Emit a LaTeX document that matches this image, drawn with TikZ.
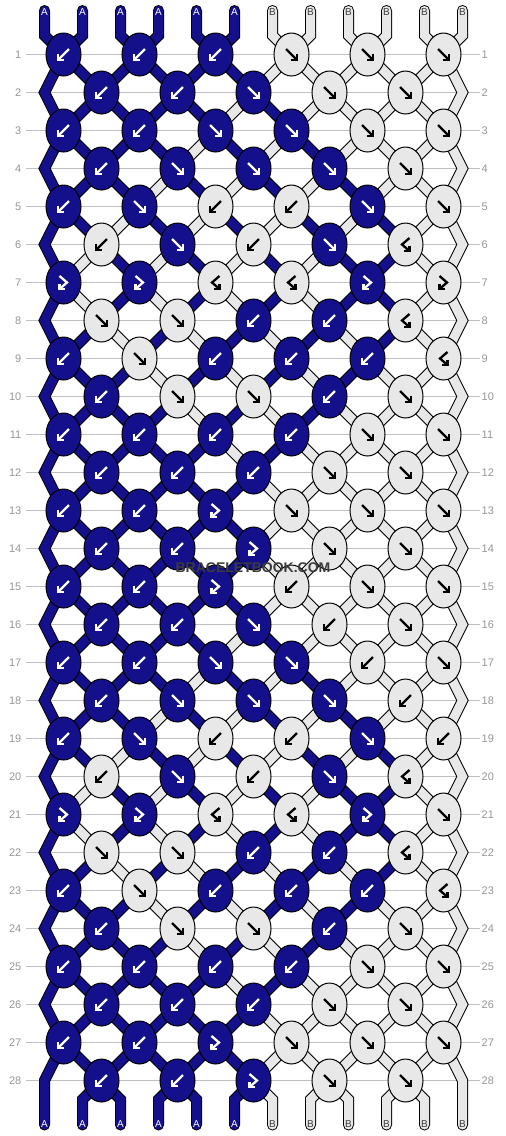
\documentclass[tikz,border=0pt]{standalone}
\usepackage{fontspec}
\setmainfont{Liberation Sans}
\usetikzlibrary{shapes.geometric}
\pgfdeclarelayer{bg}
\pgfsetlayers{bg,main}
\definecolor{navy}{RGB}{20,16,140}
\definecolor{pale}{RGB}{232,232,232}
\definecolor{rulegray}{RGB}{192,192,192}
\definecolor{numgray}{RGB}{150,150,150}
\definecolor{markgray}{RGB}{60,60,60}

% row / knots (type/colour) / strings after the row
\def\rows{%
1/{b/d,b/d,b/d,f/l,f/l,f/l}/{d,d,d,d,d,d,l,l,l,l,l,l},%
2/{b/d,b/d,f/d,f/l,f/l}/{d,d,d,d,d,l,d,l,l,l,l,l},%
3/{b/d,b/d,f/d,f/d,f/l,f/l}/{d,d,d,d,l,d,l,d,l,l,l,l},%
4/{b/d,f/d,f/d,f/d,f/l}/{d,d,d,l,d,l,d,l,d,l,l,l},%
5/{b/d,f/d,b/l,b/l,f/d,f/l}/{d,d,l,d,l,d,l,d,l,d,l,l},%
6/{b/l,f/d,b/l,f/d,h/l}/{d,l,d,l,d,l,d,l,d,d,l,l},%
7/{g/d,g/d,h/l,h/l,g/d,g/l}/{d,l,d,l,d,l,d,l,d,d,l,l},%
8/{f/l,f/l,b/d,b/d,h/l}/{d,d,l,d,l,d,l,d,l,d,l,l},%
9/{b/d,f/l,b/d,b/d,b/d,h/l}/{d,d,d,l,d,l,d,l,d,l,l,l},%
10/{b/d,f/l,f/l,b/d,f/l}/{d,d,d,d,l,d,l,d,l,l,l,l},%
11/{b/d,b/d,b/d,b/d,f/l,f/l}/{d,d,d,d,d,l,d,l,l,l,l,l},%
12/{b/d,b/d,b/d,f/l,f/l}/{d,d,d,d,d,d,l,l,l,l,l,l},%
13/{b/d,b/d,g/d,f/l,f/l,f/l}/{d,d,d,d,d,d,l,l,l,l,l,l},%
14/{b/d,b/d,g/d,f/l,f/l}/{d,d,d,d,d,d,l,l,l,l,l,l},%
15/{b/d,b/d,g/d,b/l,f/l,f/l}/{d,d,d,d,d,d,l,l,l,l,l,l},%
16/{b/d,b/d,f/d,b/l,f/l}/{d,d,d,d,d,l,d,l,l,l,l,l},%
17/{b/d,b/d,f/d,f/d,b/l,f/l}/{d,d,d,d,l,d,l,d,l,l,l,l},%
18/{b/d,f/d,f/d,f/d,b/l}/{d,d,d,l,d,l,d,l,d,l,l,l},%
19/{b/d,f/d,b/l,b/l,f/d,b/l}/{d,d,l,d,l,d,l,d,l,d,l,l},%
20/{b/l,f/d,b/l,f/d,h/l}/{d,l,d,l,d,l,d,l,d,d,l,l},%
21/{g/d,g/d,h/l,h/l,g/d,f/l}/{d,l,d,l,d,l,d,l,d,d,l,l},%
22/{f/l,f/l,b/d,b/d,h/l}/{d,d,l,d,l,d,l,d,l,d,l,l},%
23/{b/d,f/l,b/d,b/d,b/d,h/l}/{d,d,d,l,d,l,d,l,d,l,l,l},%
24/{b/d,f/l,f/l,b/d,f/l}/{d,d,d,d,l,d,l,d,l,l,l,l},%
25/{b/d,b/d,b/d,b/d,f/l,f/l}/{d,d,d,d,d,l,d,l,l,l,l,l},%
26/{b/d,b/d,b/d,f/l,f/l}/{d,d,d,d,d,d,l,l,l,l,l,l},%
27/{b/d,b/d,g/d,f/l,f/l,f/l}/{d,d,d,d,d,d,l,l,l,l,l,l},%
28/{b/d,b/d,g/d,f/l,f/l}/{d,d,d,d,d,d,l,l,l,l,l,l}%
}

\begin{document}
\begin{tikzpicture}[x=1pt,y=-1pt,inner sep=0pt,
  knotd/.style={ellipse,draw=black,line width=1pt,fill=navy,minimum width=35pt,minimum height=43pt},
  knotl/.style={knotd,fill=pale},
  inkd/.style={white,line width=2.3pt,line cap=butt,line join=miter},
  inkl/.style={inkd,black},
  str0d/.style={draw=black,line width=11pt,line cap=round,line join=miter},
  str0l/.style={str0d},
  str1d/.style={draw=navy,line width=9pt,line cap=round,line join=miter},
  str1l/.style={str1d,draw=pale},
  rowlab/.style={text=numgray,font=\fontsize{11}{13}\selectfont},
  labd/.style={text=white,font=\fontsize{10}{12}\selectfont},
  labl/.style={labd,text=markgray},
  rule/.style={draw=rulegray,line width=1pt},
  arrowf/.pic={\draw (-5.5,-5.5) -- (4.6,4.6); \draw (5.2,-0.9) -- (5.2,5.2) -- (-0.9,5.2);},
  arrowb/.pic={\draw (5.5,-5.5) -- (-4.6,4.6); \draw (-5.2,-0.9) -- (-5.2,5.2) -- (0.9,5.2);},
  arrowg/.pic={\draw (-4,-6.5) -- (3.5,0) -- (-3.4,6); \draw (-4,1.3) -- (-4,6.5) -- (1.2,6.5);},
  arrowh/.pic={\draw (4,-6.5) -- (-3.5,0) -- (3.4,6); \draw (4,1.3) -- (4,6.5) -- (-1.2,6.5);}]

\useasboundingbox (0,0) rectangle (506,1136);

\foreach \p in {1,...,12}{
  \pgfmathsetmacro\xp{44.5+38*(\p-1)}
  \coordinate (t\p) at (\xp,10.5);
  \coordinate (tb\p) at (\xp,35.5);
  \coordinate (bb\p) at (\xp,1099.5);
  \coordinate (b\p) at (\xp,1125);
}
\foreach \r in {2,4,...,28}{
  \pgfmathsetmacro\y{54.5+38*(\r-1)}
  \coordinate (eL\r) at (44.5,\y);
  \coordinate (eR\r) at (462.5,\y);
}

\foreach \r in {1,...,28}{
  \pgfmathsetmacro\y{54.5+38*(\r-1)}
  \node[rowlab,anchor=east] (nl\r) at (21.5,\y) {\r};
  \node[rowlab,anchor=west] (nr\r) at (481.5,\y) {\r};
}

\foreach \r/\kn/\st in \rows{
  \pgfmathsetmacro\y{54.5+38*(\r-1)}
  \ifodd\r\relax\def\xo{63.5}\else\def\xo{101.5}\fi
  \foreach \t/\c [count=\kk] in \kn{
    \node[knot\c] (k\r-\kk) at ({\xo+76*(\kk-1)},\y) {};
    \pic[ink\c] at (k\r-\kk) {arrow\t};
  }
}

\foreach \s/\c [count=\p] in {A/d,A/d,A/d,A/d,A/d,A/d,B/l,B/l,B/l,B/l,B/l,B/l}{
  \pgfmathsetmacro\xp{44.5+38*(\p-1)}
  \node[lab\c] (lt\p) at (\xp,12.3) {\s};
  \node[lab\c] (lb\p) at (\xp,1124.2) {\s};
}

\node[font=\bfseries\fontsize{14}{16}\selectfont,text=markgray] (mark) at (253,567.5) {BRACELETBOOK.COM};

\begin{pgfonlayer}{bg}
\foreach \r in {1,...,28}
  \draw[rule] ([xshift=4.5pt]nl\r.east) -- ([xshift=-1.5pt]nr\r.west);

\foreach \ps in {0,1}{
  \foreach \c [count=\p] in {d,d,d,d,d,d,l,l,l,l,l,l}{
    \pgfmathtruncatemacro\kk{(\p+1)/2}
    \draw[str\ps\c] (t\p) -- (tb\p) -- (k1-\kk.center);
  }
  \foreach \r/\kn/\st in \rows{
    \pgfmathtruncatemacro\rprev{\r-1}
    \pgfmathtruncatemacro\rnext{\r+1}
    \foreach \c [count=\p] in \st{
      \pgfmathtruncatemacro\io{(\p+1)/2}
      \pgfmathtruncatemacro\iev{\p/2}
      \ifodd\r\relax\let\ka\io\let\kb\iev\else\let\ka\iev\let\kb\io\fi
      \ifnum\p>1 \ifnum\p<12
        \ifnum\r<28 \draw[str\ps\c] (k\r-\ka.center) -- (k\rnext-\kb.center);
        \else \draw[str\ps\c] (k\r-\ka.center) -- (bb\p) -- (b\p);
        \fi
      \fi\fi
      \ifodd\r\relax\else
        \ifnum\r<28 \def\downL{k\rnext-1.center}\def\downR{k\rnext-6.center}%
        \else\def\downL{b1}\def\downR{b12}\fi
        \ifnum\p=1 \draw[str\ps\c] (k\rprev-1.center) -- (eL\r) -- (\downL); \fi
        \ifnum\p=12 \draw[str\ps\c] (k\rprev-6.center) -- (eR\r) -- (\downR); \fi
      \fi
    }
  }
}
\end{pgfonlayer}

\end{tikzpicture}
\end{document}
